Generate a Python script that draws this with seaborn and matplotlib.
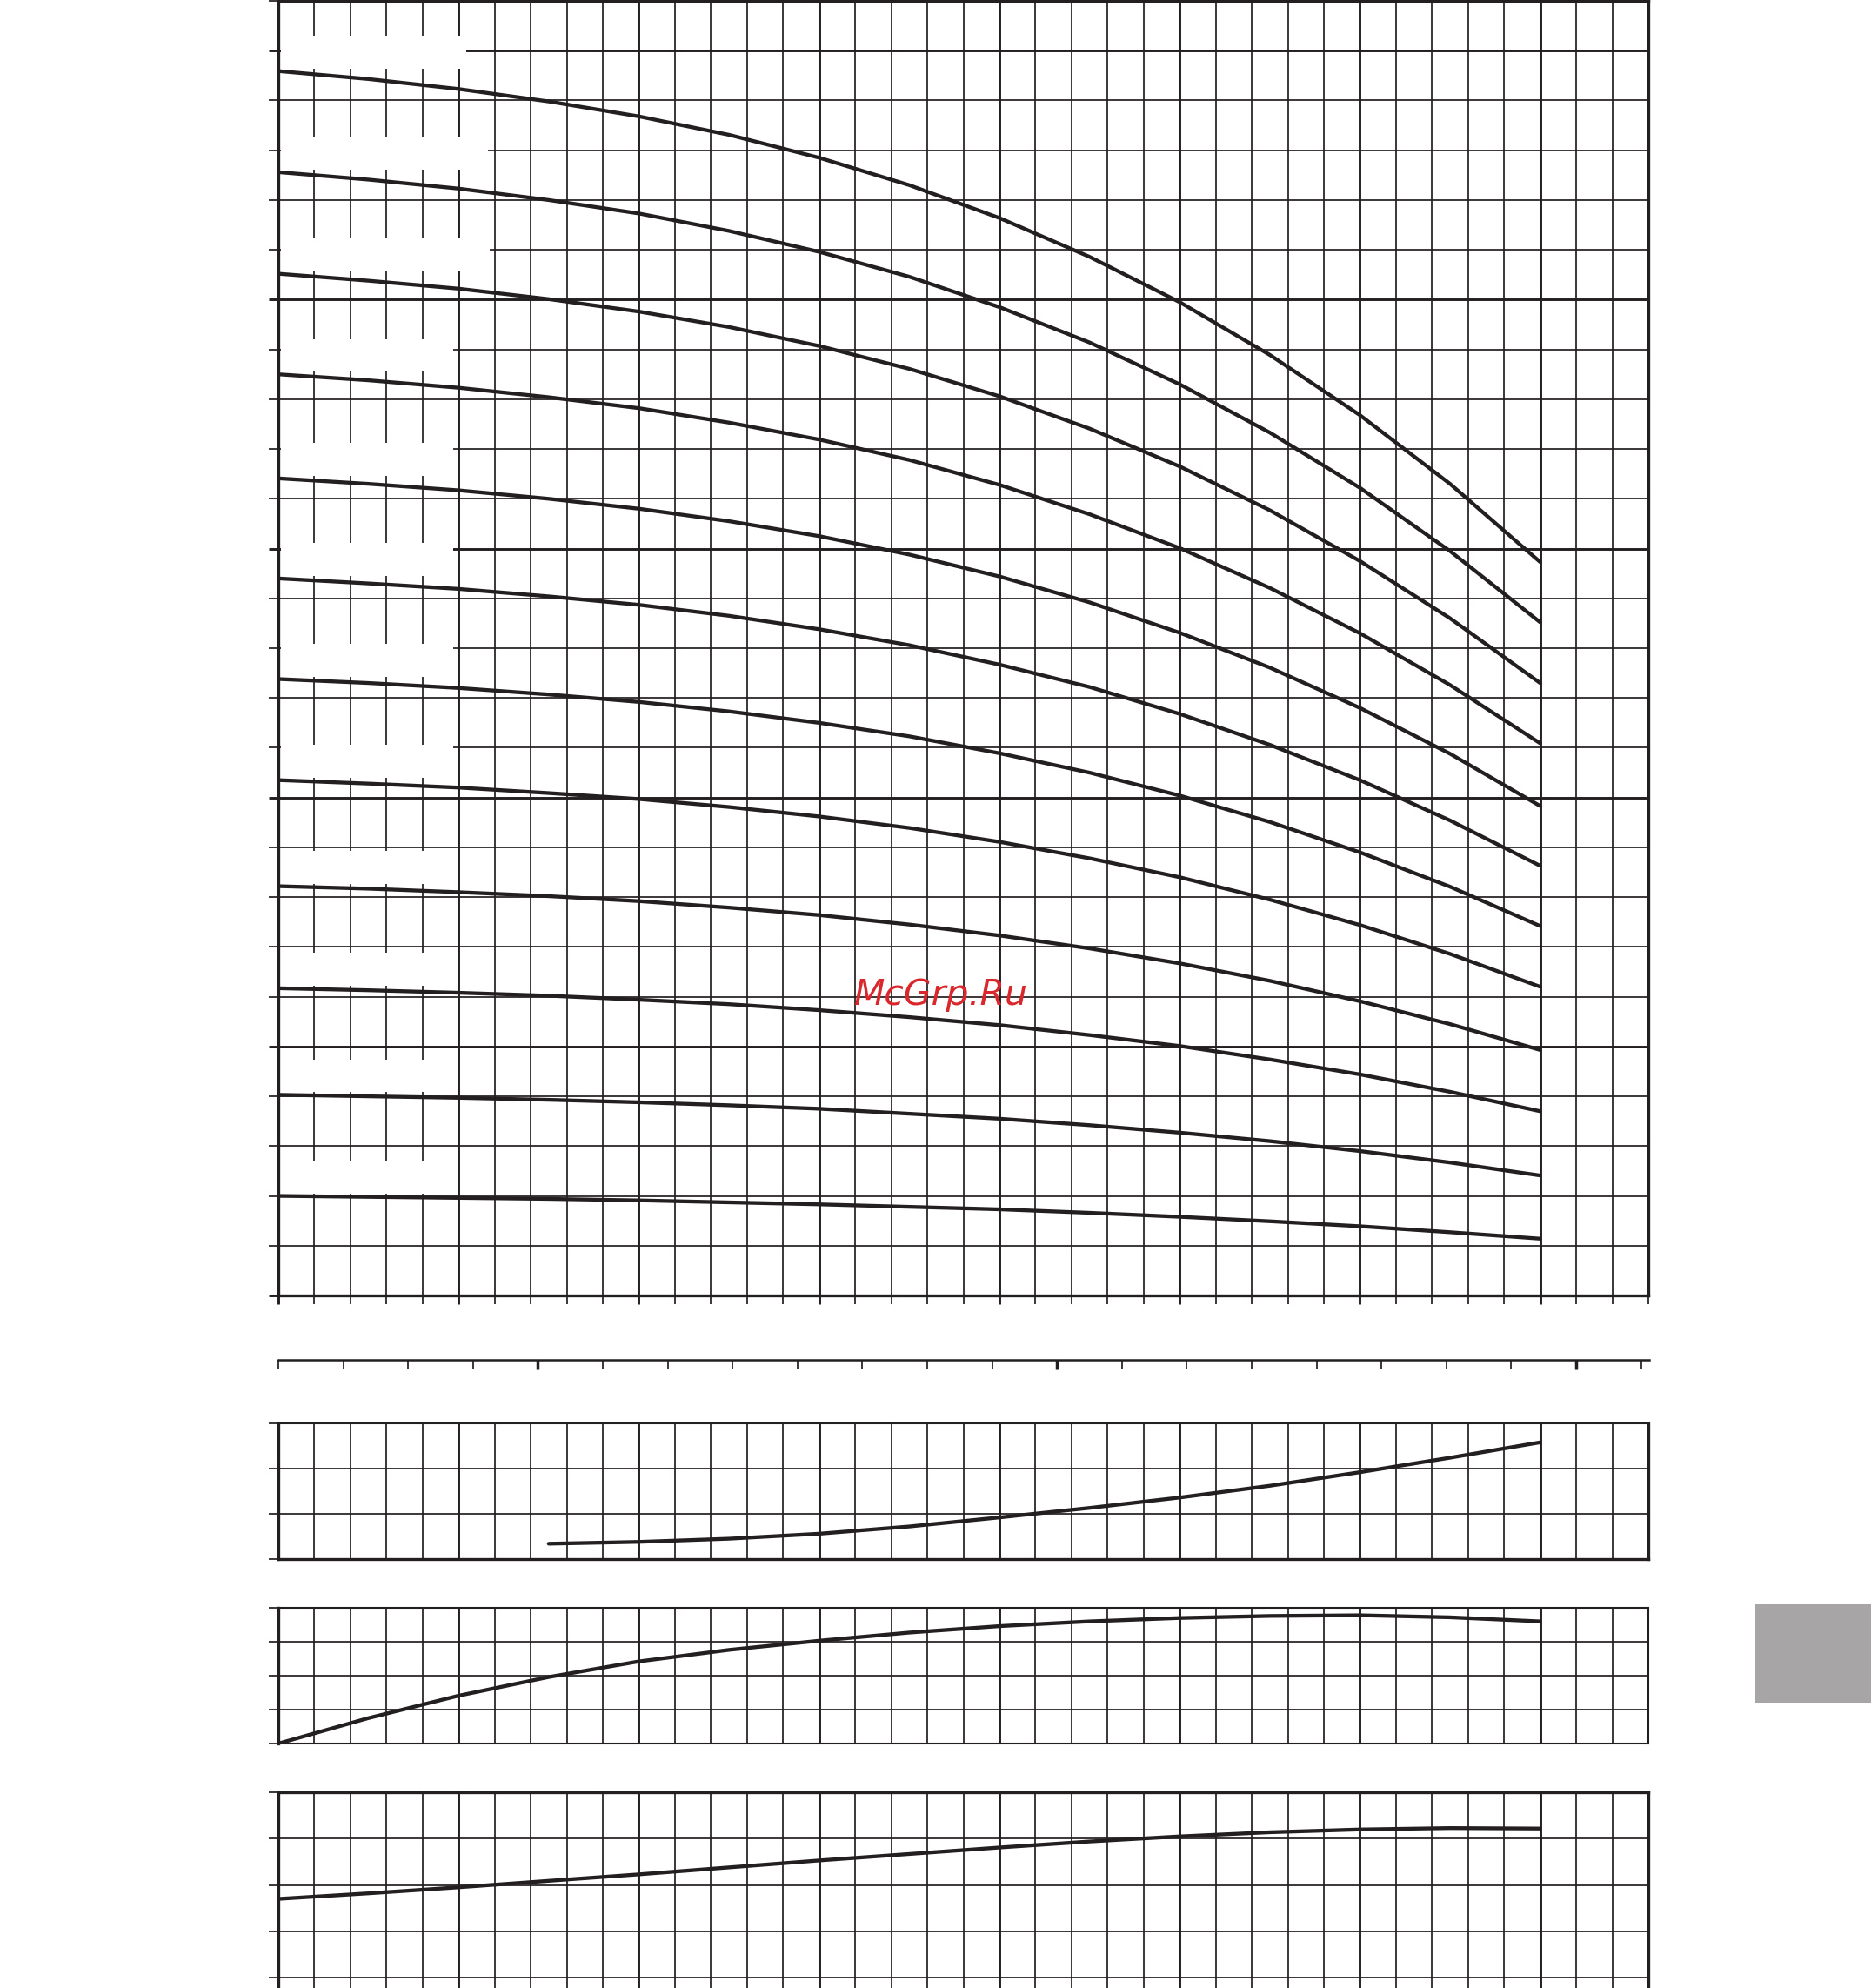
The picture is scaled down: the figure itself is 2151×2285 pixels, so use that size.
import matplotlib
matplotlib.use("Agg")
import matplotlib.pyplot as plt
from matplotlib.patches import Rectangle
from matplotlib.ticker import MultipleLocator, FixedLocator
import numpy as np
import pandas as pd
import seaborn as sns

W, H, DPI = 2151, 2285, 100
INK = '#231f20'

# flow axis in grid columns (no labels left on the sheet)
flow = [0, 2.5, 5, 7.5, 10, 12.5, 15, 17.5, 20, 22.5, 25, 27.5, 30, 32.5, 35]

# head curves, one per stage count, in grid rows
head_1 = [2.00, 1.98, 1.96, 1.94, 1.91, 1.87, 1.83, 1.78, 1.73, 1.66, 1.58, 1.49, 1.39, 1.27, 1.14]
head_2 = [4.03, 4.00, 3.97, 3.93, 3.88, 3.82, 3.75, 3.65, 3.55, 3.42, 3.27, 3.10, 2.90, 2.67, 2.41]
head_3 = [6.17, 6.13, 6.08, 6.02, 5.94, 5.85, 5.73, 5.59, 5.43, 5.23, 5.01, 4.74, 4.44, 4.09, 3.70]
head_4 = [8.22, 8.17, 8.10, 8.02, 7.92, 7.79, 7.64, 7.45, 7.23, 6.97, 6.67, 6.32, 5.91, 5.45, 4.93]
head_5 = [10.35, 10.28, 10.20, 10.09, 9.97, 9.81, 9.62, 9.39, 9.11, 8.78, 8.40, 7.95, 7.44, 6.86, 6.20]
head_6 = [12.38, 12.30, 12.20, 12.07, 11.92, 11.73, 11.50, 11.23, 10.89, 10.50, 10.04, 9.51, 8.90, 8.21, 7.42]
head_7 = [14.40, 14.30, 14.19, 14.04, 13.87, 13.65, 13.38, 13.06, 12.67, 12.22, 11.68, 11.06, 10.35, 9.54, 8.63]
head_8 = [16.41, 16.30, 16.17, 16.00, 15.80, 15.55, 15.25, 14.88, 14.44, 13.92, 13.31, 12.61, 11.80, 10.88, 9.83]
head_9 = [18.50, 18.38, 18.23, 18.04, 17.82, 17.53, 17.19, 16.78, 16.28, 15.69, 15.01, 14.21, 13.30, 12.26, 11.09]
head_10 = [20.52, 20.38, 20.22, 20.01, 19.76, 19.45, 19.07, 18.61, 18.06, 17.41, 16.65, 15.77, 14.75, 13.60, 12.30]
head_11 = [22.56, 22.41, 22.23, 22.00, 21.73, 21.38, 20.96, 20.46, 19.85, 19.14, 18.30, 17.33, 16.22, 14.95, 13.52]
head_12 = [24.59, 24.43, 24.23, 23.98, 23.68, 23.31, 22.85, 22.30, 21.64, 20.86, 19.95, 18.89, 17.68, 16.30, 14.73]
heads = [head_1, head_2, head_3, head_4, head_5, head_6,
         head_7, head_8, head_9, head_10, head_11, head_12]

# NPSH (starts later than the other curves)
npsh_flow = [7.5, 10, 12.5, 15, 17.5, 20, 22.5, 25, 27.5, 30, 32.5, 35]
npsh = [0.34, 0.38, 0.45, 0.56, 0.72, 0.92, 1.13, 1.36, 1.62, 1.92, 2.24, 2.58]

efficiency = [0.0, 0.75, 1.41, 1.96, 2.42, 2.76, 3.03, 3.27, 3.46, 3.60, 3.70, 3.76, 3.78, 3.72, 3.60]
power = [2.70, 2.82, 2.95, 3.09, 3.23, 3.38, 3.53, 3.67, 3.81, 3.94, 4.05, 4.14, 4.20, 4.23, 4.22]

# right edge of the blanked label boxes, stage 1..12 (grid columns)
mask_right = [4.85] * 9 + [5.86, 5.81, 5.21]

THIN, THICK, CURVE = 1.25, 2.1, 3.1


def rect(l, t, r, b):
    return [l / W, 1 - b / H, (r - l) / W, (b - t) / H]


def grid_panel(ax, ymax, major_rows):
    ax.set_xlim(0, 38)
    ax.set_ylim(0, ymax)
    ax.set_axisbelow(True)
    ax.xaxis.set_major_locator(MultipleLocator(5))
    ax.xaxis.set_minor_locator(MultipleLocator(1))
    if major_rows:
        ax.yaxis.set_major_locator(MultipleLocator(5))
        ax.yaxis.set_minor_locator(MultipleLocator(1))
        ax.yaxis.grid(True, which='major', color=INK, lw=THICK)
    else:
        ax.yaxis.set_major_locator(MultipleLocator(1))
        ax.yaxis.grid(True, which='major', color=INK, lw=THIN)
    ax.yaxis.grid(True, which='minor', color=INK, lw=THIN)
    ax.xaxis.grid(True, which='major', color=INK, lw=THICK)
    ax.xaxis.grid(True, which='minor', color=INK, lw=THIN)
    ax.tick_params(which='both', labelleft=False, labelbottom=False, color=INK,
                   direction='out', left=True, bottom=False)
    ax.tick_params(axis='y', which='major', length=8, width=THICK if major_rows else THIN)
    ax.tick_params(axis='y', which='minor', length=8, width=THIN)
    for s in ax.spines.values():
        s.set_color(INK)
        s.set_linewidth(2.4)
    ax.set_xlabel('')
    ax.set_ylabel('')


sns.set_style('white')
fig = plt.figure(figsize=(W / DPI, H / DPI), dpi=DPI)

# main head chart
ax = fig.add_axes(rect(320, 1, 1895, 1489))
grid_panel(ax, 26, True)
ax.tick_params(axis='x', which='both', bottom=True, length=7.5)
ax.tick_params(axis='x', which='major', width=THICK)
ax.tick_params(axis='x', which='minor', width=THIN)

df = pd.DataFrame({
    'flow': flow * len(heads),
    'head': [v for h in heads for v in h],
    'stage': [i + 1 for i, h in enumerate(heads) for _ in h],
})
sns.lineplot(data=df, x='flow', y='head', units='stage', estimator=None,
             color=INK, lw=CURVE, legend=False, ax=ax, solid_capstyle='round',
             solid_joinstyle='round')
for h, r in zip(heads, mask_right):
    ax.add_patch(Rectangle((0.08, h[0] + 0.05), r - 0.08, 0.66,
                           facecolor='white', edgecolor='none', zorder=1))
ax.set_xlabel('')
ax.set_ylabel('')

# second flow scale
axq = fig.add_axes(rect(320, 1550, 1896, 1562.7))
axq.set_facecolor('none')
axq.set_xlim(0, 1576 / 74.6)
axq.set_ylim(0, 1)
for side in ['left', 'right', 'top']:
    axq.spines[side].set_visible(False)
axq.spines['bottom'].set_color(INK)
axq.spines['bottom'].set_linewidth(1.8)
axq.xaxis.set_major_locator(FixedLocator([4, 12, 20]))
axq.xaxis.set_minor_locator(FixedLocator([i for i in range(22) if i not in (4, 12, 20)]))
axq.tick_params(axis='x', which='both', direction='out', length=7.7, color=INK,
                bottom=True, labelbottom=False)
axq.tick_params(axis='x', which='major', width=2.5)
axq.tick_params(axis='x', which='minor', width=THIN)
axq.set_yticks([])

# NPSH panel
ax_n = fig.add_axes(rect(320, 1636, 1895, 1792))
grid_panel(ax_n, 3, False)
ax_n.spines['top'].set_linewidth(1.5)
sns.lineplot(x=npsh_flow, y=npsh, color=INK, lw=CURVE, ax=ax_n, solid_capstyle='round')

# efficiency panel
ax_e = fig.add_axes(rect(320, 1848, 1895, 2004))
grid_panel(ax_e, 4, False)
for side in ['top', 'right', 'bottom']:
    ax_e.spines[side].set_linewidth(1.5)
sns.lineplot(x=flow, y=efficiency, color=INK, lw=CURVE, ax=ax_e, solid_capstyle='round')

# power panel (runs off the page)
ax_p = fig.add_axes(rect(320, 2060.2, 1895, 2326.2))
grid_panel(ax_p, 5, False)
sns.lineplot(x=flow, y=power, color=INK, lw=CURVE, ax=ax_p, solid_capstyle='round')

# watermark and page tab
fig.text(1081.5 / W, 1 - 1155 / H, 'McGrp.Ru', color='#d9272c', fontsize=29.5,
         style='italic', family='DejaVu Sans', ha='center', va='baseline', zorder=10)
fig.add_artist(Rectangle((2018 / W, 1 - 1956.7 / H), (W - 2018) / W, 112.7 / H,
                         transform=fig.transFigure, facecolor='#a7a5a6',
                         edgecolor='none'))

fig.savefig('out.png', dpi=DPI)
